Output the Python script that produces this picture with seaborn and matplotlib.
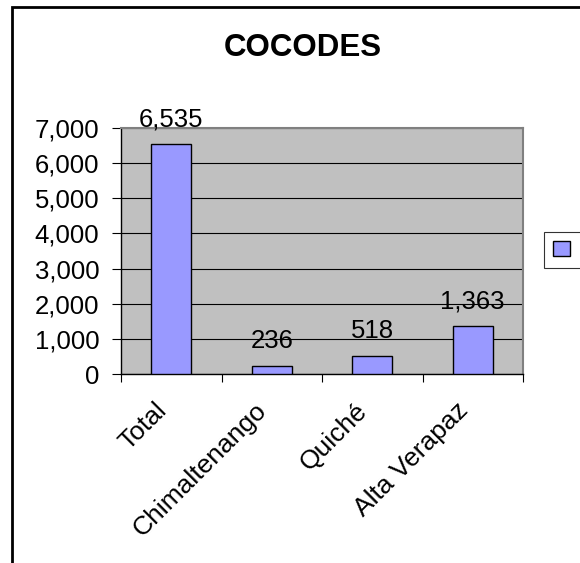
import matplotlib
matplotlib.use('Agg')
import seaborn as sns
import matplotlib.pyplot as plt
from matplotlib.patches import Patch, Rectangle
from matplotlib.transforms import ScaledTranslation

categories = ['Total', 'Chimaltenango', 'Quiché', 'Alta Verapaz']
cocodes = [6535, 236, 518, 1363]
y_ticks = [0, 1000, 2000, 3000, 4000, 5000, 6000, 7000]

sns.set_style('white')
plt.rcParams['font.family'] = ['Liberation Sans', 'DejaVu Sans']
plt.rcParams['text.color'] = 'black'
plt.rcParams['xtick.color'] = 'black'
plt.rcParams['ytick.color'] = 'black'
plt.rcParams['xtick.labelcolor'] = 'black'
plt.rcParams['ytick.labelcolor'] = 'black'

fig = plt.figure(figsize=(5.8, 5.63), dpi=100)
W, H = 580, 563

# outer chart border (cropped on right and bottom like the original)
fig.patches.append(Rectangle((12 / W, -0.1), 1.2, 1 - 7 / H + 0.1,
                             transform=fig.transFigure, fill=False,
                             edgecolor='black', linewidth=2))

ax = fig.add_axes([121 / W, 1 - 374 / H, (523 - 121) / W, (374 - 128) / H])
ax.set_facecolor('#C0C0C0')

sns.barplot(x=categories, y=cocodes, color='#9999FF', saturation=1,
            edgecolor='black', linewidth=1, width=0.4, ax=ax, zorder=3)

ax.set_ylim(0, 7000)
ax.set_xlim(-0.5, 3.5)
ax.set_yticks(y_ticks)
ax.set_yticklabels([f'{v:,}' for v in y_ticks], fontsize=18.5)
ax.yaxis.grid(True, color='black', linewidth=0.8, zorder=0)
ax.set_axisbelow(True)

ax.set_xticks([-0.5, 0.5, 1.5, 2.5, 3.5], minor=True)
ax.tick_params(axis='x', which='major', length=0, pad=14)
ax.tick_params(axis='x', which='minor', length=6, width=0.8, color='black',
               direction='out', bottom=True)
ax.tick_params(axis='y', length=6.5, width=0.8, color='black',
               direction='out', left=True, pad=9)
ax.set_xticks(range(len(categories)))
ax.set_xticklabels(categories, fontsize=19, rotation=45, ha='right',
                   va='top', rotation_mode='anchor')
# nudge rotated labels left/down like the original
shift = ScaledTranslation(-17 / 100, -5 / 100, fig.dpi_scale_trans)
for lbl in ax.get_xticklabels():
    lbl.set_transform(lbl.get_transform() + shift)
ax.set_xlabel('')
ax.set_ylabel('')

for side in ['top', 'right']:
    ax.spines[side].set_color('#808080')
    ax.spines[side].set_linewidth(1.5)
for side in ['left', 'bottom']:
    ax.spines[side].set_color('black')
    ax.spines[side].set_linewidth(1)

ax.bar_label(ax.containers[0], labels=[f'{v:,}' for v in cocodes],
             fontsize=18.5, padding=9, color='black')

fig.text(303 / W, 1 - 48 / H, 'COCODES', fontsize=22.5, fontweight='bold',
         ha='center', va='center', color='black')

leg = fig.legend(handles=[Patch(facecolor='#9999FF', edgecolor='black')],
                 labels=['      '], loc='upper left',
                 bbox_to_anchor=(544 / W, 1 - 232 / H), borderaxespad=0,
                 frameon=True, fancybox=False, edgecolor='black', fontsize=13,
                 handlelength=0.94, handleheight=0.94, borderpad=0.5,
                 handletextpad=0.5)
leg.get_frame().set_linewidth(0.8)

fig.savefig('out.png', dpi=100)
